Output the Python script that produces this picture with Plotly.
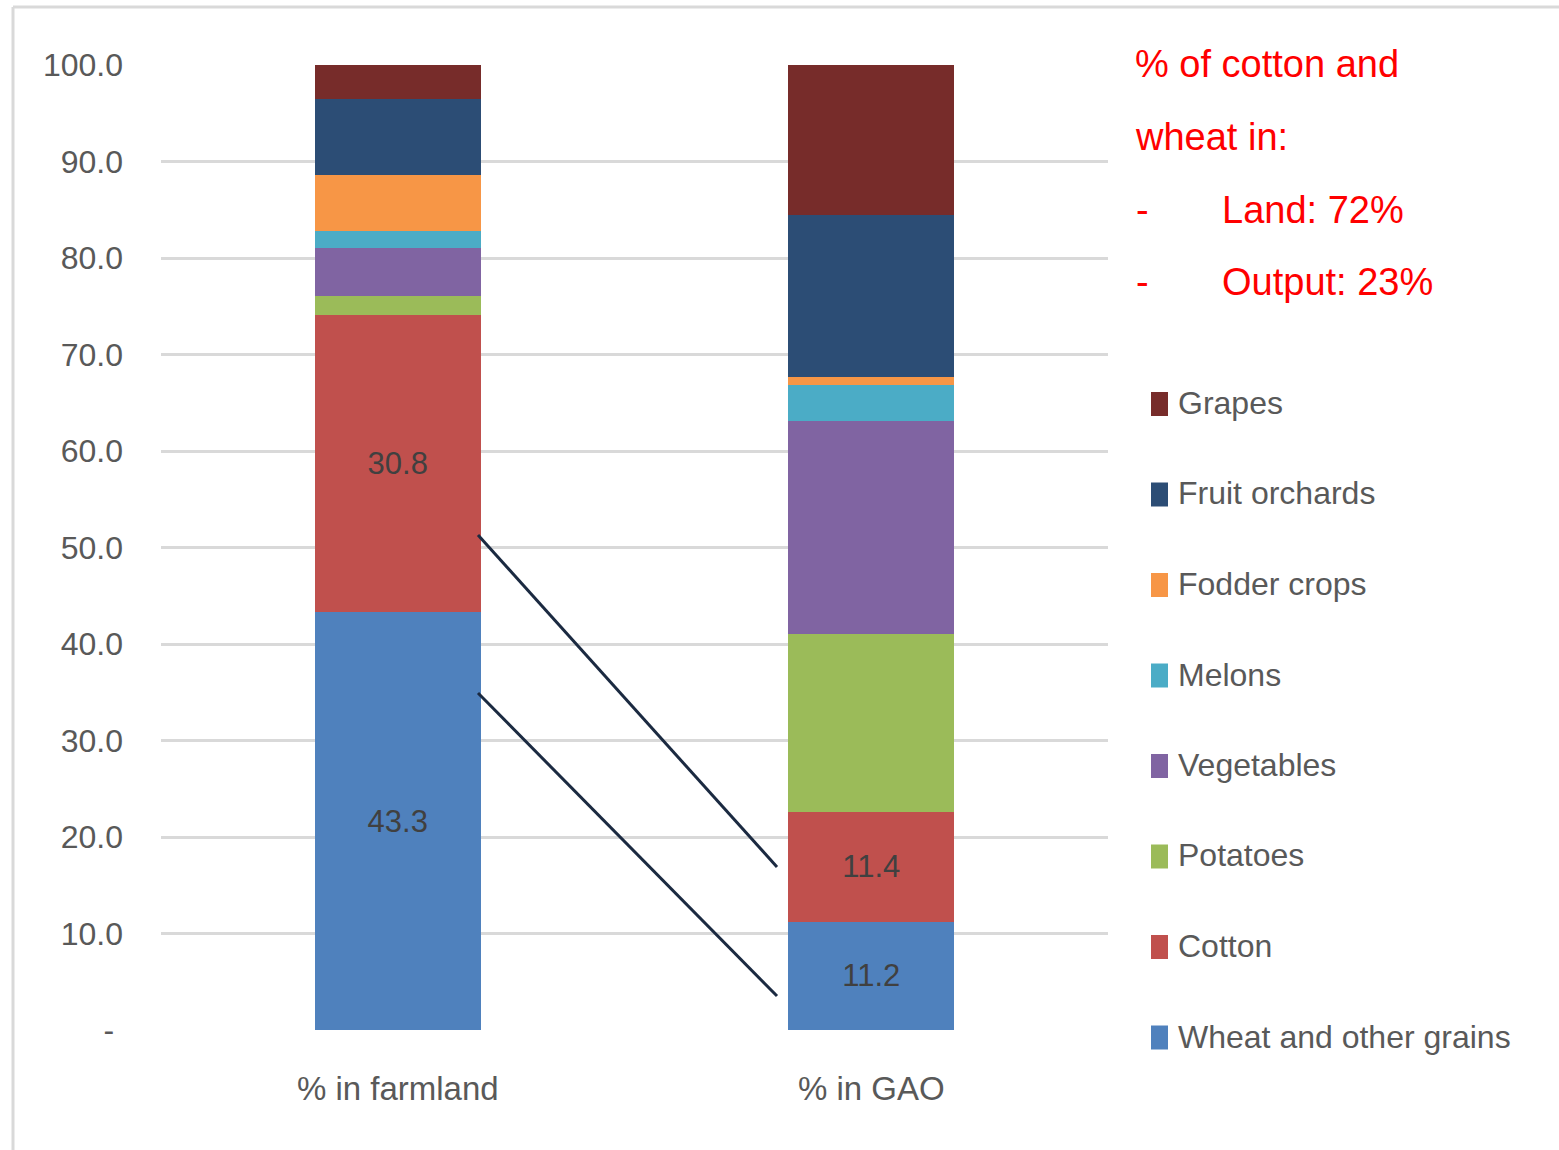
import plotly.graph_objects as go

# ---------------- data ----------------
categories = ["% in farmland", "% in GAO"]
series_names = ["Wheat and other grains", "Cotton", "Potatoes", "Vegetables",
                "Melons", "Fodder crops", "Fruit orchards", "Grapes"]
wheat = [43.3, 11.2]
cotton = [30.8, 11.4]
potatoes = [2.0, 18.4]
vegetables = [4.9, 22.1]
melons = [1.8, 3.7]
fodder = [5.8, 0.9]
fruit = [7.9, 16.8]
grapes = [3.5, 15.5]
series_values = [wheat, cotton, potatoes, vegetables, melons, fodder, fruit, grapes]
series_colors = ["#4F81BD", "#C0504D", "#9BBB59", "#8064A2",
                 "#4BACC6", "#F79646", "#2C4D75", "#772C2A"]
labelled = ["Wheat and other grains", "Cotton"]
y_tickvals = [0, 10, 20, 30, 40, 50, 60, 70, 80, 90, 100]
y_ticktext = ["-\u00a0", "10.0", "20.0", "30.0", "40.0", "50.0",
              "60.0", "70.0", "80.0", "90.0", "100.0"]
note_lines = ["% of cotton and", "wheat in:", "Land: 72%", "Output: 23%"]

# ---------------- layout constants ----------------
W, H = 1559, 1150
L, R, T, B = 161, 1108, 65, 1030
FONT = "Liberation Sans, Arial, sans-serif"
GREY = "#595959"


def px(x):
    return (x - L) / (R - L)


def py(y):
    return (B - y) / (B - T)


fig = go.Figure()
for name, vals, col in zip(series_names, series_values, series_colors):
    show = name in labelled
    fig.add_trace(go.Bar(
        name=name, x=categories, y=vals,
        marker=dict(color=col, line=dict(width=0)),
        text=[f"{v:.1f}" for v in vals] if show else None,
        textposition="inside" if show else "none",
        insidetextanchor="middle",
        textangle=0,
        constraintext="none",
        textfont=dict(family=FONT, size=31, color="#404040"),
        hoverinfo="name+y",
    ))

shapes = []
annotations = []

# outer frame (top and left edges)
shapes.append(dict(type="line", xref="paper", yref="paper",
                   x0=px(13), x1=px(1600), y0=py(7), y1=py(7),
                   line=dict(color="#D9D9D9", width=3)))
shapes.append(dict(type="line", xref="paper", yref="paper",
                   x0=px(13), x1=px(13), y0=py(7), y1=py(1200),
                   line=dict(color="#D9D9D9", width=3)))

# connector lines
for (x0, y0, x1, y1) in [(478, 535, 777, 867), (478, 693, 777, 996)]:
    shapes.append(dict(type="line", xref="paper", yref="paper",
                       x0=px(x0), y0=py(y0), x1=px(x1), y1=py(y1),
                       line=dict(color="#1B2A41", width=3)))

# red note
note_pos = [(1133, 64), (1133, 137), (1220, 210), (1220, 282)]
for txt, (x, y) in zip(note_lines, note_pos):
    annotations.append(dict(xref="paper", yref="paper", x=px(x), y=py(y),
                            text=txt, showarrow=False, xanchor="left", yanchor="middle",
                            font=dict(family=FONT, size=38, color="#FF0000")))
for y in (210, 282):
    annotations.append(dict(xref="paper", yref="paper", x=px(1134), y=py(y),
                            text="-", showarrow=False, xanchor="left", yanchor="middle",
                            font=dict(family=FONT, size=38, color="#FF0000")))

# manual legend (top: Grapes ... bottom: Wheat)
leg_top, leg_step = 404, 90.5
for i, (name, col) in enumerate(zip(series_names[::-1], series_colors[::-1])):
    cy = leg_top + i * leg_step
    shapes.append(dict(type="rect", xref="paper", yref="paper",
                       x0=px(1151), x1=px(1168), y0=py(cy - 12), y1=py(cy + 12),
                       fillcolor=col, line=dict(width=0)))
    annotations.append(dict(xref="paper", yref="paper", x=px(1176), y=py(cy - 1),
                            text=name, showarrow=False, xanchor="left", yanchor="middle",
                            font=dict(family=FONT, size=32, color=GREY)))

fig.update_layout(
    width=W, height=H,
    margin=dict(l=L, r=W - R, t=T, b=H - B, pad=0),
    barmode="stack", bargap=0.65,
    showlegend=False,
    plot_bgcolor="white", paper_bgcolor="white",
    font=dict(family=FONT, color=GREY),
    shapes=shapes, annotations=annotations,
    xaxis=dict(showgrid=False, showline=False, zeroline=False, ticks="",
               tickfont=dict(family=FONT, size=33, color=GREY),
               ticklabelstandoff=36),
    yaxis=dict(range=[0, 100], tickvals=y_tickvals, ticktext=y_ticktext,
               showgrid=True, gridcolor="#D9D9D9", gridwidth=3,
               zeroline=False, showline=False, ticks="",
               tickfont=dict(family=FONT, size=32, color=GREY),
               ticklabelstandoff=37),
)

fig.write_html("out.html")
